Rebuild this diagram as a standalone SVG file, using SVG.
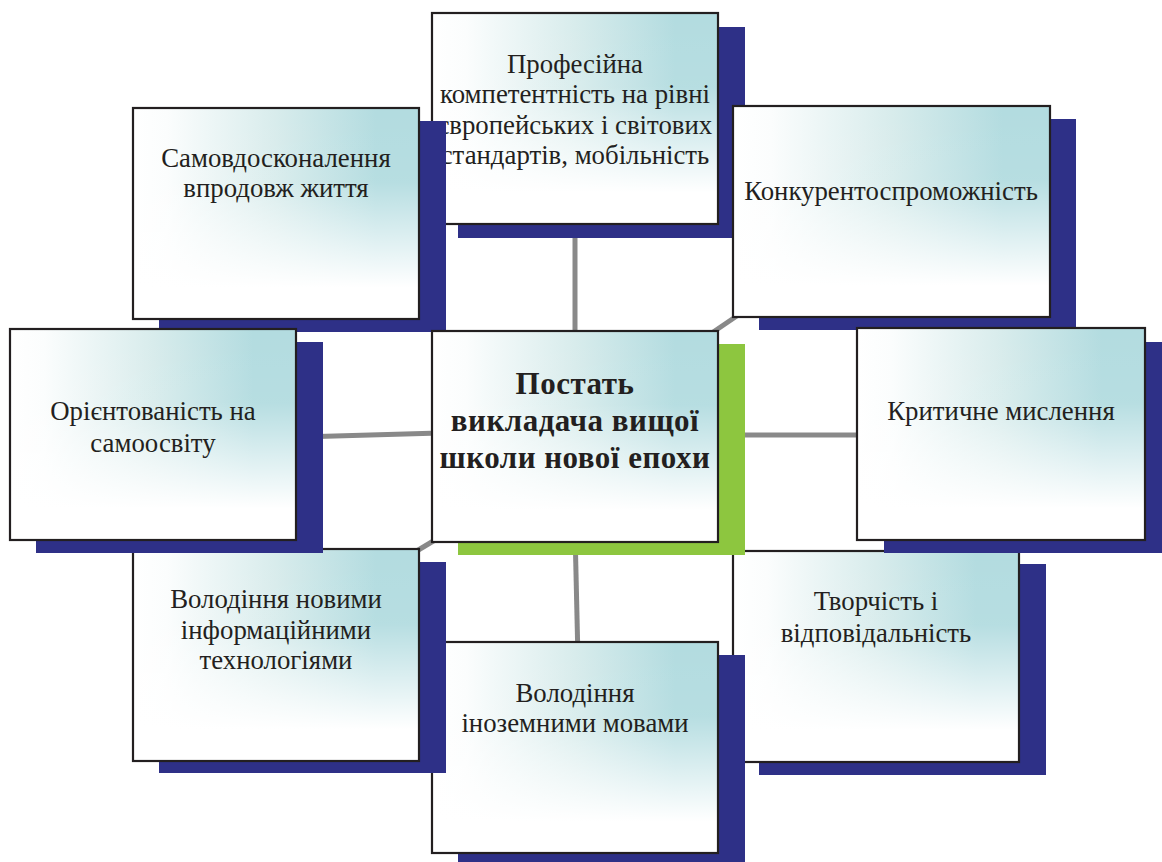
<svg xmlns="http://www.w3.org/2000/svg" width="1162" height="862" viewBox="0 0 1162 862">
<defs>
<linearGradient id="gh" x1="0" y1="0" x2="1" y2="0">
<stop offset="0" stop-color="#ffffff"/>
<stop offset="0.12" stop-color="#fbfdfd"/>
<stop offset="0.5" stop-color="#d8ecec"/>
<stop offset="0.85" stop-color="#b3dce0"/>
<stop offset="1" stop-color="#b3dce0"/>
</linearGradient>
<linearGradient id="gv" x1="0" y1="0" x2="0" y2="1">
<stop offset="0" stop-color="#ffffff" stop-opacity="0"/>
<stop offset="0.35" stop-color="#ffffff" stop-opacity="0.05"/>
<stop offset="0.85" stop-color="#ffffff" stop-opacity="1"/>
<stop offset="1" stop-color="#ffffff" stop-opacity="1"/>
</linearGradient>
<style>
.sh{fill:#2e3087}
.shg{fill:#8dc63f}
.bg{fill:url(#gh)}
.fd{fill:url(#gv);stroke:#231f20;stroke-width:2.2}
.t{font-family:"Liberation Serif","Times New Roman",serif;font-size:26.8px;fill:#231f20;text-anchor:middle}
.tb{font-family:"Liberation Serif","Times New Roman",serif;font-size:31px;font-weight:bold;fill:#231f20;text-anchor:middle;letter-spacing:0.5px}
.c{stroke:#898989;stroke-width:5;fill:none}
</style>
</defs>
<rect width="1162" height="862" fill="#ffffff"/>
<g id="connectors">
<line class="c" x1="575" y1="200" x2="575" y2="345"/>
<line class="c" x1="700" y1="341" x2="750" y2="307"/>
<line class="c" x1="700" y1="435" x2="880" y2="435"/>
<line class="c" x1="300" y1="437" x2="440" y2="433"/>
<line class="c" x1="400" y1="561" x2="450" y2="531"/>
<line class="c" x1="575" y1="530" x2="578" y2="660"/>
</g>
<g id="node-profesiyna">
<rect class="sh" x="458" y="27" width="287" height="211"/>
<rect class="bg" x="432" y="13" width="286" height="211"/>
<rect class="fd" x="432" y="13" width="286" height="211"/>
<text class="t" x="575" y="73">Професійна</text>
<text class="t" x="575" y="103">компетентність на рівні</text>
<text class="t" x="575" y="134">європейських і світових</text>
<text class="t" x="575" y="164">стандартів, мобільність</text>
</g>
<g id="node-tvorchist">
<rect class="sh" x="759" y="564" width="287" height="211"/>
<rect class="bg" x="733" y="551" width="286" height="211"/>
<rect class="fd" x="733" y="551" width="286" height="211"/>
<text class="t" x="876" y="610">Творчість і</text>
<text class="t" x="876" y="642">відповідальність</text>
</g>
<g id="node-inozemni">
<rect class="sh" x="458" y="655" width="287" height="211"/>
<rect class="bg" x="432" y="642" width="286" height="211"/>
<rect class="fd" x="432" y="642" width="286" height="211"/>
<text class="t" x="575" y="702">Володіння</text>
<text class="t" x="575" y="732">іноземними мовами</text>
</g>
<g id="node-tekhnolohii">
<rect class="sh" x="159" y="562" width="287" height="211"/>
<rect class="bg" x="133" y="549" width="286" height="212"/>
<rect class="fd" x="133" y="549" width="286" height="212"/>
<text class="t" x="276" y="608">Володіння новими</text>
<text class="t" x="276" y="639">інформаційними</text>
<text class="t" x="276" y="669">технологіями</text>
</g>
<g id="node-samovdoskonalennia">
<rect class="sh" x="159" y="121" width="287" height="211"/>
<rect class="bg" x="133" y="108" width="286" height="211"/>
<rect class="fd" x="133" y="108" width="286" height="211"/>
<text class="t" x="276" y="167">Самовдосконалення</text>
<text class="t" x="276" y="197">впродовж життя</text>
</g>
<g id="node-konkurent">
<rect class="sh" x="759" y="119" width="317" height="211"/>
<rect class="bg" x="733" y="106" width="317" height="211"/>
<rect class="fd" x="733" y="106" width="317" height="211"/>
<text class="t" x="891" y="200">Конкурентоспроможність</text>
</g>
<g id="node-krytychne">
<rect class="sh" x="884" y="342" width="288" height="211"/>
<rect class="bg" x="857" y="328" width="288" height="212"/>
<rect class="fd" x="857" y="328" width="288" height="212"/>
<text class="t" x="1001" y="420">Критичне мислення</text>
</g>
<g id="node-oriientovanist">
<rect class="sh" x="36" y="342" width="287" height="211"/>
<rect class="bg" x="10" y="329" width="286" height="211"/>
<rect class="fd" x="10" y="329" width="286" height="211"/>
<text class="t" x="153" y="420">Орієнтованість на</text>
<text class="t" x="153" y="452">самоосвіту</text>
</g>
<g id="node-center">
<rect class="shg" x="458" y="344" width="287" height="211"/>
<rect class="bg" x="432" y="331" width="286" height="211"/>
<rect class="fd" x="432" y="331" width="286" height="211"/>
<text class="tb" x="575" y="394">Постать</text>
<text class="tb" x="575" y="431">викладача вищої</text>
<text class="tb" x="575" y="468">школи нової епохи</text>
</g>
</svg>
